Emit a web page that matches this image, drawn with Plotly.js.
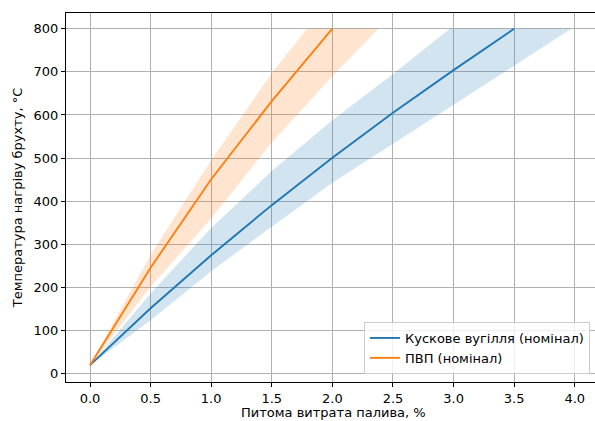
<!DOCTYPE html>
<html>
<head>
<meta charset="utf-8">
<script src="https://cdn.plot.ly/plotly-3.0.1.min.js"></script>
<style>html,body{margin:0;padding:0;background:#fff;}#chart{width:595px;height:421px;}</style>
</head>
<body>
<div id="chart"></div>
<script>
// Nominal curves
const coalX = [0, 0.5, 1.0, 1.5, 2.0, 2.5, 3.0, 3.5];
const coalT = [20, 152, 275, 391, 501, 605, 704, 800];
const pvpX = [0, 0.5, 1.0, 1.5, 2.0];
const pvpT = [20, 246, 451, 632, 800];

// Uncertainty band edges (x, T)
const coalUpX = [0, 0.5, 1.0, 1.5, 2.0, 2.5, 2.97];
const coalUpT = [20, 186, 338, 470, 588, 695, 800];
const coalLoX = [0, 0.5, 1.0, 1.5, 2.0, 2.5, 3.0, 3.5, 3.97];
const coalLoT = [20, 124, 238, 341, 443, 535, 624, 714, 800];
const pvpUpX = [0, 0.5, 1.0, 1.5, 1.79];
const pvpUpT = [20, 276, 495, 697, 800];
const pvpLoX = [0, 0.5, 1.0, 1.5, 2.0, 2.38];
const pvpLoT = [20, 202, 360, 536, 690, 800];

const seriesNames = ['Кускове вугілля (номінал)', 'ПВП (номінал)'];
const xTicks = [0, 0.5, 1.0, 1.5, 2.0, 2.5, 3.0, 3.5, 4.0];
const yTicks = [0, 100, 200, 300, 400, 500, 600, 700, 800];
const xTitle = 'Питома витрата палива, %';
const yTitle = 'Температура нагріву брухту, °C';

function band(upX, upT, loX, loT) {
  return {
    x: upX.concat(loX.slice().reverse()),
    y: upT.concat(loT.slice().reverse())
  };
}
const cb = band(coalUpX, coalUpT, coalLoX, coalLoT);
const pb = band(pvpUpX, pvpUpT, pvpLoX, pvpLoT);

const traces = [
  {x: cb.x, y: cb.y, type: 'scatter', mode: 'lines', fill: 'toself',
   fillcolor: 'rgba(31,119,180,0.2)', line: {width: 0}, showlegend: false, hoverinfo: 'skip'},
  {x: coalX, y: coalT, type: 'scatter', mode: 'lines', name: seriesNames[0],
   line: {color: '#1f77b4', width: 1.9}},
  {x: pb.x, y: pb.y, type: 'scatter', mode: 'lines', fill: 'toself',
   fillcolor: 'rgba(255,127,14,0.2)', line: {width: 0}, showlegend: false, hoverinfo: 'skip'},
  {x: pvpX, y: pvpT, type: 'scatter', mode: 'lines', name: seriesNames[1],
   line: {color: '#ff7f0e', width: 1.9}}
];

const font = {family: 'DejaVu Sans', size: 13, color: '#000'};
const layout = {
  width: 595, height: 421,
  margin: {l: 66, r: 0, t: 13, b: 39},
  paper_bgcolor: '#fff', plot_bgcolor: '#fff',
  font: font,
  showlegend: true,
  xaxis: {
    range: [-0.198, 4.167], tickvals: xTicks, tickformat: '.1f',
    showgrid: true, gridcolor: '#b0b0b0', gridwidth: 1, zeroline: false,
    showline: true, linecolor: '#000', linewidth: 1, mirror: true,
    ticks: 'outside', ticklen: 4, tickcolor: '#000', tickfont: font,
    automargin: false
  },
  yaxis: {
    range: [-19, 836.4], tickvals: yTicks,
    showgrid: true, gridcolor: '#b0b0b0', gridwidth: 1, zeroline: false,
    showline: true, linecolor: '#000', linewidth: 1,
    ticks: 'outside', ticklen: 4, tickcolor: '#000', tickfont: font,
    title: {text: yTitle, font: font, standoff: 8},
    automargin: false
  },
  annotations: [{
    text: xTitle, xref: 'paper', yref: 'paper', x: 0.505, y: -0.083,
    xanchor: 'center', yanchor: 'middle', showarrow: false, font: font
  }],
  legend: {
    x: 0.9905, y: 0.0217, xanchor: 'right', yanchor: 'bottom',
    bgcolor: 'rgba(255,255,255,0.8)', bordercolor: '#cccccc', borderwidth: 1,
    font: font, itemwidth: 30, tracegroupgap: 0
  }
};
Plotly.newPlot('chart', traces, layout, {displayModeBar: false, staticPlot: true});
</script>
</body>
</html>
